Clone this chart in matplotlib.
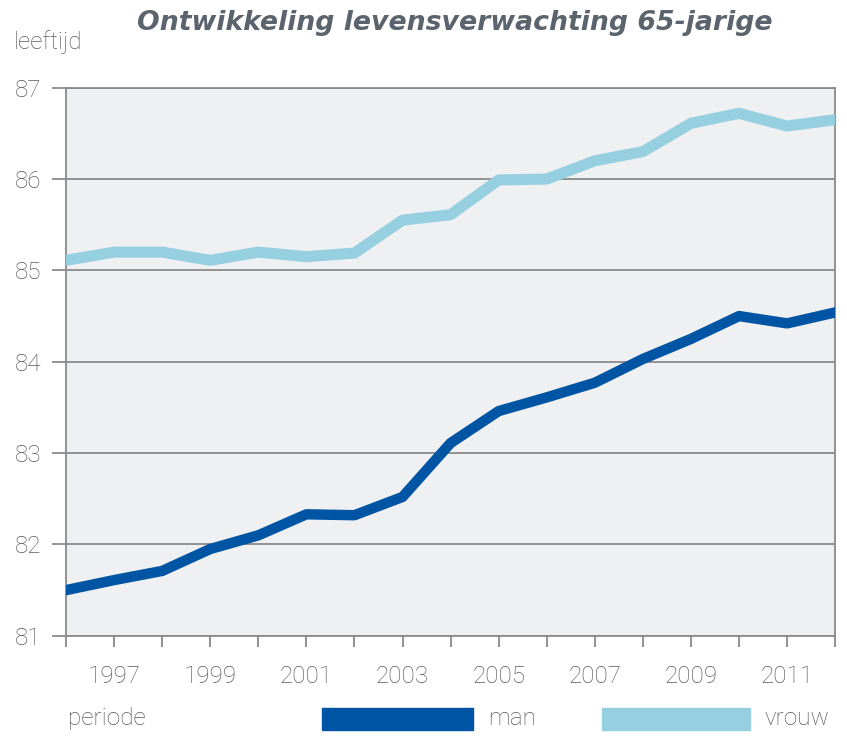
import numpy as np
import matplotlib.pyplot as plt
from matplotlib.patches import Rectangle

# life expectancy of 65-year-olds (age incl. 65)
years = list(range(1996, 2013))
man = [81.50, 81.61, 81.71, 81.95, 82.10, 82.33, 82.32, 82.52, 83.11, 83.46,
       83.61, 83.77, 84.03, 84.25, 84.50, 84.42, 84.54]
vrouw = [85.11, 85.20, 85.20, 85.11, 85.20, 85.15, 85.19, 85.55, 85.61, 85.99,
         86.00, 86.20, 86.30, 86.61, 86.72, 86.58, 86.65]
xlabels = [str(y) if y % 2 == 1 else '' for y in years]
yticks = [81, 82, 83, 84, 85, 86, 87]

c_man = '#0054a4'
c_vrouw = '#96cfe0'
c_grid = '#8a8a8a'
c_txt = '#5a5a5a'
tf = dict(fontfamily='Roboto', fontweight='light', fontstretch='condensed',
          fontsize=17.5, color=c_txt)

fig = plt.figure(figsize=(8.47, 7.56), dpi=100)
ax = fig.add_axes([0.078, 0.159, 0.908, 0.725])
ax.set_facecolor('#eff0f2')

ax.plot(years, vrouw, color=c_vrouw, lw=8, solid_capstyle='round',
        solid_joinstyle='round', zorder=3)
ax.plot(years, man, color=c_man, lw=7.5, solid_capstyle='round',
        solid_joinstyle='round', zorder=3)

ax.set_xlim(1996, 2012)
ax.set_ylim(81, 87)
ax.set_xticks(years)
ax.set_xticklabels(xlabels, **tf)
ax.set_yticks(yticks)
ax.set_yticklabels([str(v) for v in yticks], **tf)
ax.tick_params(axis='x', direction='out', length=8, width=1.3, color=c_grid,
               pad=13)
ax.tick_params(axis='y', direction='out', length=10, width=1.3, color=c_grid,
               pad=8)
ax.grid(axis='y', color=c_grid, lw=1.3, zorder=1)
for s in ax.spines.values():
    s.set_color(c_grid)
    s.set_linewidth(1.3)

fig.text(0.537, 0.970, 'Ontwikkeling levensverwachting 65-jarige',
         ha='center', va='center', fontsize=19.3, fontweight='bold',
         fontstyle='italic', color='#5b636d')
fig.text(0.016, 0.944, 'leeftijd', ha='left', va='center', **tf)
fig.text(0.080, 0.050, 'periode', ha='left', va='center', **tf)

# legend
fig.patches.append(Rectangle((0.380, 0.034), 0.178, 0.029,
                             transform=fig.transFigure, color=c_man))
fig.text(0.576, 0.050, 'man', ha='left', va='center', **tf)
fig.patches.append(Rectangle((0.711, 0.034), 0.175, 0.029,
                             transform=fig.transFigure, color=c_vrouw))
fig.text(0.903, 0.050, 'vrouw', ha='left', va='center', **tf)

fig.savefig('out.png', dpi=100)
